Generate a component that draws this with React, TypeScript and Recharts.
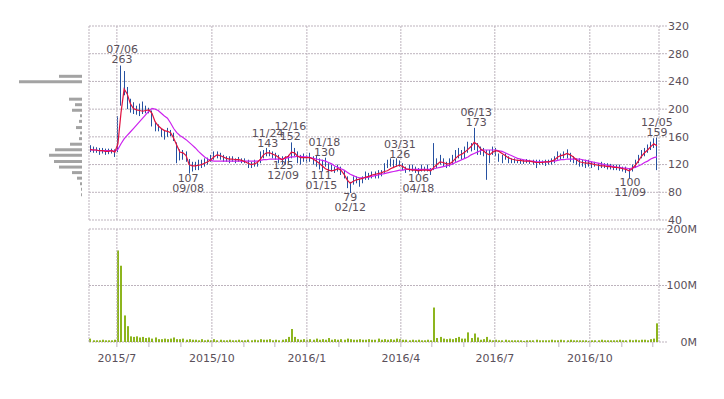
import { ComposedChart, BarChart, Bar, Line, Scatter, XAxis, YAxis, CartesianGrid, ReferenceLine } from "recharts"

// one point every 3 calendar days, counted from 2015/6/1
const FIRST_DAY = 4
const DAY_STEP = 3

const lows = [
  138, 137, 137, 134, 136, 134, 135, 136, 131,
  138, 205, 220, 200, 195, 193, 192, 190, 193, 194, 194, 175, 168, 168, 160, 156, 160, 161, 154, 122, 126, 127, 124,
  107, 110, 112, 112, 115, 117, 120, 124, 127, 129, 127, 124, 124, 122, 124, 122, 124, 122, 122, 115, 115, 117, 117, 122, 129, 132, 132, 129, 127, 122,
  120, 120, 122, 129, 132, 122, 120, 124, 122, 124, 120, 117, 113, 110, 117, 110, 110, 108, 110, 105, 100, 86, 79, 91, 93, 88, 93, 98, 98, 100, 100, 100, 103,
  108, 115, 117, 115, 117, 117, 112, 108, 110, 110, 108, 106, 110, 110, 110, 105, 112, 115, 120, 117, 115, 117, 120, 124, 129, 127, 129, 137, 139, 141, 134,
  134, 132, 98, 122, 134, 132, 124, 122, 127, 122, 122, 122, 122, 121, 121, 122, 121, 120, 115, 120, 120, 118, 120, 120, 122, 127, 127, 129, 129, 124, 122, 120,
  117, 117, 115, 117, 115, 117, 112, 115, 115, 113, 113, 112, 112, 111, 110, 108, 100, 110, 115, 122, 129, 132, 137, 141, 144, 112,
]
const highs = [
  148, 146, 145, 144, 144, 143, 143, 143, 142,
  190, 263, 255, 232, 215, 210, 205, 208, 211, 205, 202, 198, 180, 178, 172, 170, 173, 170, 166, 152, 142, 141, 139,
  128, 124, 124, 127, 127, 129, 130, 134, 139, 139, 137, 134, 132, 132, 132, 129, 131, 129, 129, 127, 124, 127, 124, 139, 141, 144, 141, 139, 137, 134,
  132, 132, 134, 152, 144, 139, 134, 136, 134, 137, 132, 134, 129, 127, 130, 122, 120, 117, 120, 117, 112, 103, 95, 103, 103, 100, 103, 110, 108, 110, 110, 112, 112,
  122, 127, 129, 127, 129, 126, 122, 117, 120, 120, 117, 115, 120, 117, 120, 115, 151, 129, 134, 129, 124, 129, 134, 141, 144, 141, 146, 153, 151, 173, 151,
  146, 144, 141, 141, 146, 144, 136, 134, 136, 132, 129, 129, 127, 128, 127, 128, 127, 127, 127, 127, 126, 127, 127, 129, 132, 139, 136, 139, 142, 137, 132, 129,
  129, 127, 127, 127, 124, 124, 122, 124, 122, 122, 121, 120, 120, 120, 117, 117, 115, 120, 127, 134, 141, 144, 149, 153, 158, 159,
]
const ma5 = [
  142, 141, 141, 140, 140, 139, 139, 140, 138,
  150, 195, 229, 222, 208, 201, 199, 198, 197, 198, 199, 194, 182, 176, 172, 169, 168, 166, 158, 148, 138, 137, 133,
  120, 118, 118, 119, 120, 122, 124, 127, 131, 134, 133, 131, 129, 128, 128, 127, 127, 126, 124, 122, 120, 121, 123, 128, 134, 137, 137, 135, 133, 130,
  127, 130, 132, 138, 137, 132, 130, 130, 130, 130, 128, 125, 122, 118, 114, 112, 111, 112, 114, 112, 106, 98, 93, 96, 98, 99, 100, 102, 103, 105, 106, 107, 108,
  110, 111, 114, 116, 118, 119, 117, 114, 113, 112, 112, 111, 112, 112, 112, 111, 116, 120, 124, 123, 121, 121, 124, 129, 133, 135, 138, 142, 146, 152, 149,
  143, 140, 136, 134, 138, 140, 139, 136, 133, 130, 128, 127, 126, 126, 125, 125, 125, 124, 123, 123, 123, 124, 124, 125, 127, 131, 133, 134, 136, 134, 131, 127,
  124, 123, 122, 122, 121, 120, 119, 118, 118, 117, 117, 116, 116, 115, 114, 113, 111, 114, 119, 125, 132, 137, 141, 146, 150, 147,
]
const ma25 = [
  141, 141, 141, 140, 140, 140, 140, 140, 139,
  142, 150, 157, 162, 167, 172, 177, 182, 187, 192, 197, 201, 200, 198, 194, 190, 187, 180, 172, 166, 162, 159, 156,
  152, 148, 144, 139, 135, 131, 128, 126, 125, 125, 125, 125, 125, 125, 125, 125, 125, 125, 125, 125, 125, 125, 125, 126, 127, 127, 128, 128, 128, 128,
  128, 129, 130, 131, 131, 132, 132, 131, 131, 130, 129, 128, 127, 126, 125, 123, 121, 118, 116, 114, 112, 109, 106, 104, 102, 101, 101, 101, 102, 103, 104, 105, 106,
  107, 108, 109, 110, 111, 112, 112, 113, 113, 113, 113, 113, 113, 113, 113, 113, 114, 115, 116, 117, 118, 119, 121, 123, 125, 127, 129, 131, 134, 136, 138,
  140, 141, 141, 141, 141, 141, 140, 139, 137, 135, 133, 131, 129, 128, 127, 126, 125, 125, 124, 124, 124, 124, 124, 125, 125, 126, 127, 127, 128, 128, 128, 128,
  128, 127, 126, 125, 124, 123, 122, 121, 120, 119, 118, 117, 116, 116, 115, 115, 114, 115, 116, 118, 120, 123, 125, 128, 130, 131,
]
// millions of shares
const volumes = [
  6, 3, 3, 3, 4, 3, 3, 3, 4,
  162, 135, 47, 28, 10, 9, 10, 8, 9, 7, 8, 6, 8, 5, 5, 6, 5, 6, 8, 5, 5, 6, 4,
  5, 4, 4, 3, 5, 3, 4, 3, 5, 3, 4, 3, 3, 4, 3, 3, 4, 3, 3, 4, 3, 4, 3, 5, 4, 4, 5, 3, 4, 3,
  4, 5, 9, 23, 9, 5, 4, 5, 4, 5, 4, 6, 4, 5, 4, 7, 4, 5, 4, 5, 4, 6, 5, 4, 4, 5, 4, 4, 5, 4, 4, 6, 4,
  5, 4, 5, 4, 6, 5, 4, 4, 3, 4, 3, 4, 3, 3, 4, 3, 61, 7, 9, 6, 5, 6, 5, 7, 9, 6, 6, 17, 7, 15, 8,
  4, 5, 9, 4, 3, 4, 3, 3, 4, 3, 3, 3, 3, 3, 2, 3, 3, 3, 4, 3, 3, 3, 3, 4, 3, 3, 4, 3, 3, 4, 3, 3,
  3, 3, 3, 2, 3, 3, 3, 4, 3, 3, 3, 3, 3, 4, 3, 3, 4, 3, 4, 3, 4, 4, 3, 5, 6, 33,
]

const monthStarts = [30, 61, 92, 122, 153, 183, 214, 245, 274, 305, 335, 366, 396, 427, 458, 488, 519, 549]
const monthLabels = ["2015/7", "", "", "2015/10", "", "", "2016/1", "", "", "2016/4", "", "", "2016/7", "", "", "2016/10", "", ""]
const quarterStarts = [30, 122, 214, 305, 396, 488]
const priceTicks = [40, 80, 120, 160, 200, 240, 280, 320]
const volumeTicks = [0, 100, 200]

// high / low marks
const markDays = [35, 99, 176, 191, 198, 228, 231, 256, 304, 322, 378, 527, 553]
const markValues = [263, 107, 143, 125, 152, 111, 130, 79, 126, 106, 173, 100, 159]
const markDates = ["07/06", "09/08", "11/24", "12/09", "12/16", "01/15", "01/18", "02/12", "03/31", "04/18", "06/13", "11/09", "12/05"]
const markIsHigh = [true, false, true, false, true, false, true, false, true, false, true, false, true]

// volume by price (left side)
const profilePrices = [76, 84, 92, 100, 108, 116, 124, 133, 141, 149, 157, 165, 173, 182, 190, 198, 206, 214, 222, 231, 239, 247]
const profileVolumes = [1, 1, 2, 5, 10, 23, 28, 33, 27, 12, 3, 2, 6, 3, 2, 10, 7, 13, 0, 0, 63, 23]

const rows = lows.map((lo, i) => ({
  d: FIRST_DAY + DAY_STEP * i,
  range: [lo, highs[i]],
  ma5: ma5[i],
  ma25: ma25[i],
  vol: volumes[i],
}))
const marks = markDays.map((d, i) => ({ d, value: markValues[i], date: markDates[i], high: markIsHigh[i] }))
const profile = profilePrices.map((price, i) => ({ price, vol: profileVolumes[i] }))

const GRID = "#bdb3bd"
const TEXT = "#5a505a"
const FONT = "DejaVu Sans"
const X_DOMAIN = [3, 555]

function MarkLabel(props: any) {
  const { cx, cy, payload } = props
  if (cx == null || cy == null) return null
  const top = payload.high ? payload.date : String(payload.value)
  const bottom = payload.high ? String(payload.value) : payload.date
  const y1 = payload.high ? cy - 12 : cy + 8
  return (
    <g fontSize={11} fill={TEXT} fontFamily={FONT}>
      <text x={cx} y={y1} textAnchor="middle">{top}</text>
      <text x={cx} y={y1 + 10} textAnchor="middle">{bottom}</text>
    </g>
  )
}

// snap thin bars to whole pixels so they stay sharp
const crispBar = (fill: string) => (p: any) =>
  p.height > 0 ? <rect x={Math.round(p.x)} y={p.y} width={p.width} height={p.height} fill={fill} /> : <g />

export default function App() {
  return (
    <div style={{ position: "absolute", left: 0, top: 0, width: 724, height: 399, background: "#fff", fontFamily: FONT }}>
      <div style={{ position: "absolute", left: 0, top: 0 }}>
        <BarChart width={89} height={222} data={profile} layout="vertical" margin={{ top: 26, right: 7, bottom: 2, left: 0 }}>
          <XAxis type="number" domain={[0, 82]} reversed hide />
          <YAxis type="number" dataKey="price" domain={[40, 320]} reversed hide />
          <Bar dataKey="vol" fill="#a3a3a3" barSize={3} isAnimationActive={false} />
        </BarChart>
      </div>

      <div style={{ position: "absolute", left: 0, top: 0 }}>
        <ComposedChart width={724} height={234} data={rows} margin={{ top: 26, right: 0, bottom: 14, left: 89 }}>
          <CartesianGrid vertical={false} stroke={GRID} strokeDasharray="2 1" />
          <XAxis type="number" dataKey="d" domain={X_DOMAIN} hide />
          <YAxis
            orientation="right"
            width={65}
            domain={[40, 320]}
            ticks={priceTicks}
            interval={0}
            tickSize={8}
            tickMargin={1}
            axisLine={{ stroke: GRID, strokeDasharray: "2 1" }}
            tickLine={{ stroke: GRID, strokeDasharray: "2 1" }}
            tick={{ fontSize: 11, fill: TEXT }}
          />
          <ReferenceLine x={X_DOMAIN[0]} stroke={GRID} strokeDasharray="2 1" />
          {quarterStarts.map((d) => (
            <ReferenceLine key={d} x={d} stroke={GRID} strokeDasharray="2 1" />
          ))}
          <Bar dataKey="range" barSize={2} shape={crispBar("#16449a")} isAnimationActive={false} />
          <Line dataKey="ma25" stroke="#cc22ee" strokeWidth={1.2} dot={false} isAnimationActive={false} />
          <Line dataKey="ma5" stroke="#e0103e" strokeWidth={1.2} dot={false} isAnimationActive={false} />
          <Scatter data={marks} dataKey="value" shape={MarkLabel} isAnimationActive={false} />
        </ComposedChart>
      </div>

      <div style={{ position: "absolute", left: 0, top: 222 }}>
        <ComposedChart width={724} height={150} data={rows} margin={{ top: 7, right: 0, bottom: 10, left: 89 }}>
          <CartesianGrid vertical={false} stroke={GRID} strokeDasharray="2 1" />
          <XAxis
            type="number"
            dataKey="d"
            domain={X_DOMAIN}
            height={20}
            ticks={monthStarts}
            interval={0}
            tickFormatter={(v) => monthLabels[monthStarts.indexOf(v)] ?? ""}
            tickSize={5}
            tickMargin={7}
            axisLine={false}
            tickLine={{ stroke: GRID }}
            tick={{ fontSize: 11, fill: TEXT }}
          />
          <YAxis
            orientation="right"
            width={65}
            domain={[0, 200]}
            ticks={volumeTicks}
            interval={0}
            tickFormatter={(v) => `${v}M`}
            tickSize={8}
            tickMargin={30}
            axisLine={{ stroke: GRID, strokeDasharray: "2 1" }}
            tickLine={{ stroke: GRID, strokeDasharray: "2 1" }}
            tick={{ fontSize: 11, fill: TEXT, textAnchor: "end" }}
          />
          <ReferenceLine x={X_DOMAIN[0]} stroke={GRID} strokeDasharray="2 1" />
          {quarterStarts.map((d) => (
            <ReferenceLine key={d} x={d} stroke={GRID} strokeDasharray="2 1" />
          ))}
          <Bar dataKey="vol" barSize={2} shape={crispBar("#8db51e")} isAnimationActive={false} />
        </ComposedChart>
      </div>
    </div>
  )
}
